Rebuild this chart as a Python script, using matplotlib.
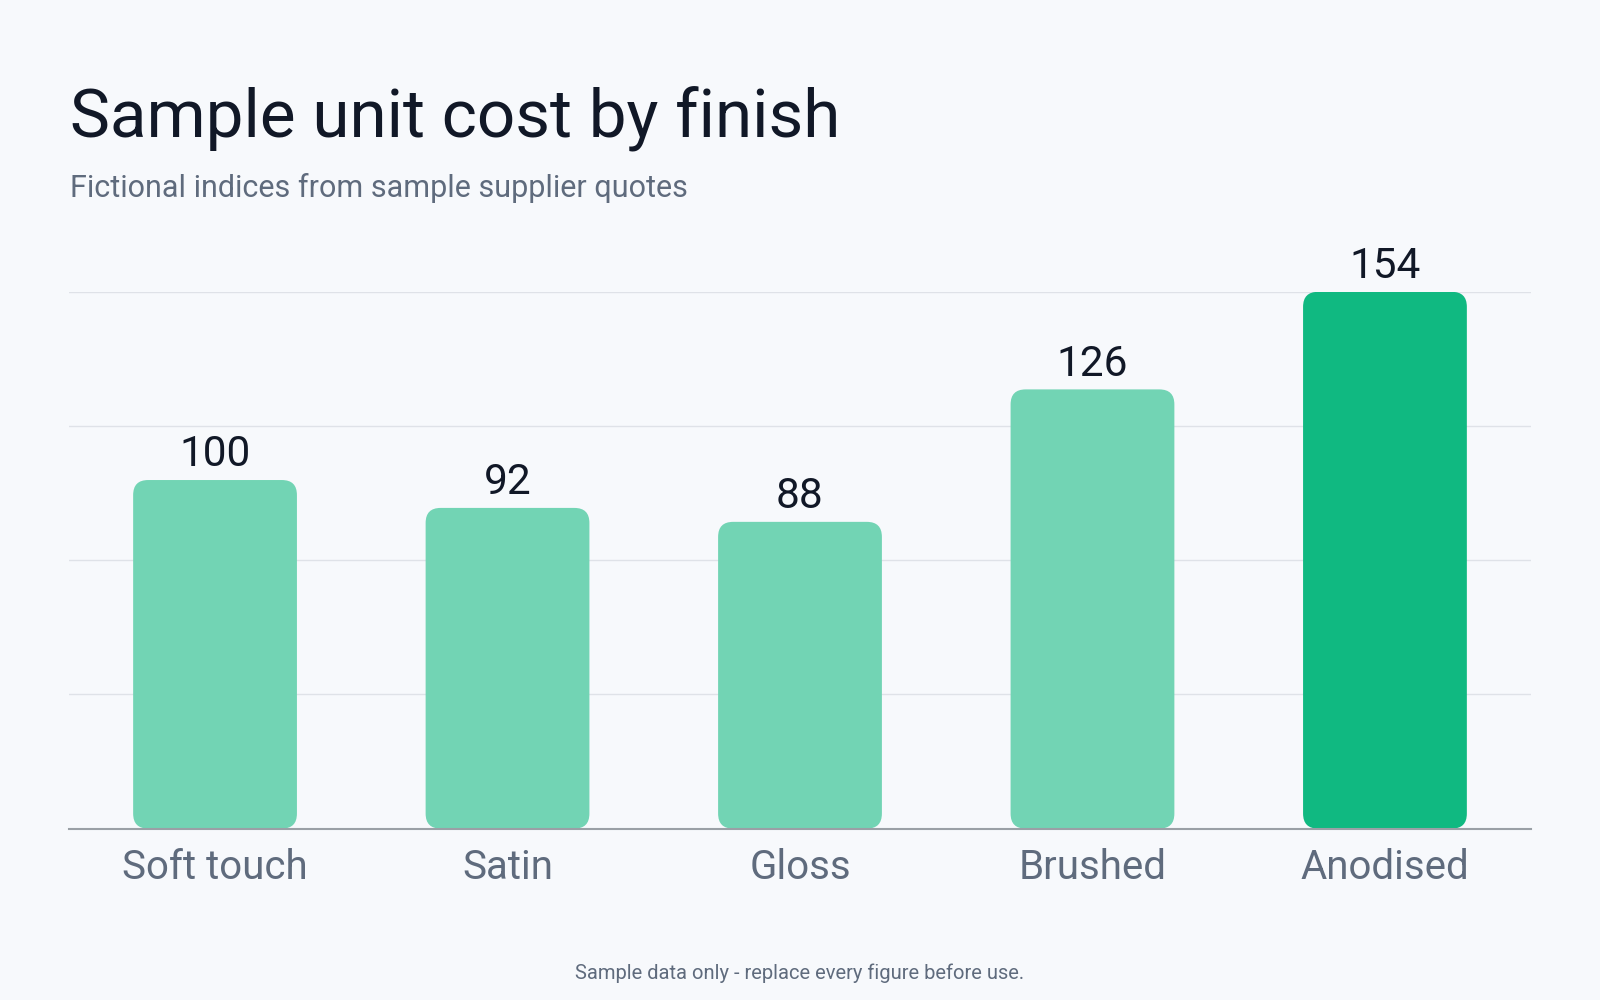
import matplotlib
matplotlib.use('Agg')
import numpy as np
import matplotlib.pyplot as plt
from matplotlib.patches import FancyBboxPatch

plt.rcParams['font.family'] = ['Roboto', 'DejaVu Sans']

# 数据
finishes = ['Soft touch', 'Satin', 'Gloss', 'Brushed', 'Anodised']
cost_index = [100, 92, 88, 126, 154]
highlight = 'Anodised'

bg = '#f7f9fc'
light = '#72d4b4'
strong = '#10b981'

fig = plt.figure(figsize=(16, 10), dpi=100, facecolor=bg)
ax = fig.add_axes([0.043, 0.1714, 0.914, 0.5368])
ax.set_facecolor(bg)

x = np.arange(len(finishes))
ymax = max(cost_index)
ax.set_xlim(-0.5, len(finishes) - 0.5)
ax.set_ylim(0, ymax)

# 圆角柱子：按像素换算圆角大小
bw = 0.56
px_x = ax.transData.transform((1, 0))[0] - ax.transData.transform((0, 0))[0]
px_y = ax.transData.transform((0, 1))[1] - ax.transData.transform((0, 0))[1]
r_px = 15
for xi, name, v in zip(x, finishes, cost_index):
    c = strong if name == highlight else light
    p = FancyBboxPatch((xi - bw / 2, 0), bw, v,
                       boxstyle='round,pad=0,rounding_size=%f' % (r_px / px_x),
                       mutation_aspect=px_x / px_y,
                       fc=c, ec='none', zorder=3)
    ax.add_patch(p)
    ax.annotate(str(v), (xi, v), xytext=(0, 10), textcoords='offset points',
                ha='center', va='baseline', fontsize=30.5, color='#111827',
                annotation_clip=False, zorder=4)

ax.set_yticks(np.linspace(0, ymax, 5))
ax.set_yticklabels([])
ax.tick_params(axis='y', length=0)
ax.grid(axis='y', color='#dfe2e8', linewidth=1, zorder=0)
ax.set_xticks(x)
ax.set_xticklabels(finishes, fontsize=29, color='#5f6b7d')
ax.tick_params(axis='x', length=0, pad=14)
for s in ['top', 'right', 'left']:
    ax.spines[s].set_visible(False)
ax.spines['bottom'].set_color('#9aa0a6')
ax.spines['bottom'].set_linewidth(1.5)
ax.spines['bottom'].set_zorder(5)

fig.text(0.044, 0.862, 'Sample unit cost by finish', fontsize=48.5, color='#111827',
         ha='left', va='baseline')
fig.text(0.044, 0.803, 'Fictional indices from sample supplier quotes', fontsize=22,
         color='#5f6b7d', ha='left', va='baseline')
fig.text(0.5, 0.021, 'Sample data only - replace every figure before use.', fontsize=14.5,
         color='#5f6b7d', ha='center', va='baseline')

fig.savefig('out.png', dpi=100, facecolor=bg)
